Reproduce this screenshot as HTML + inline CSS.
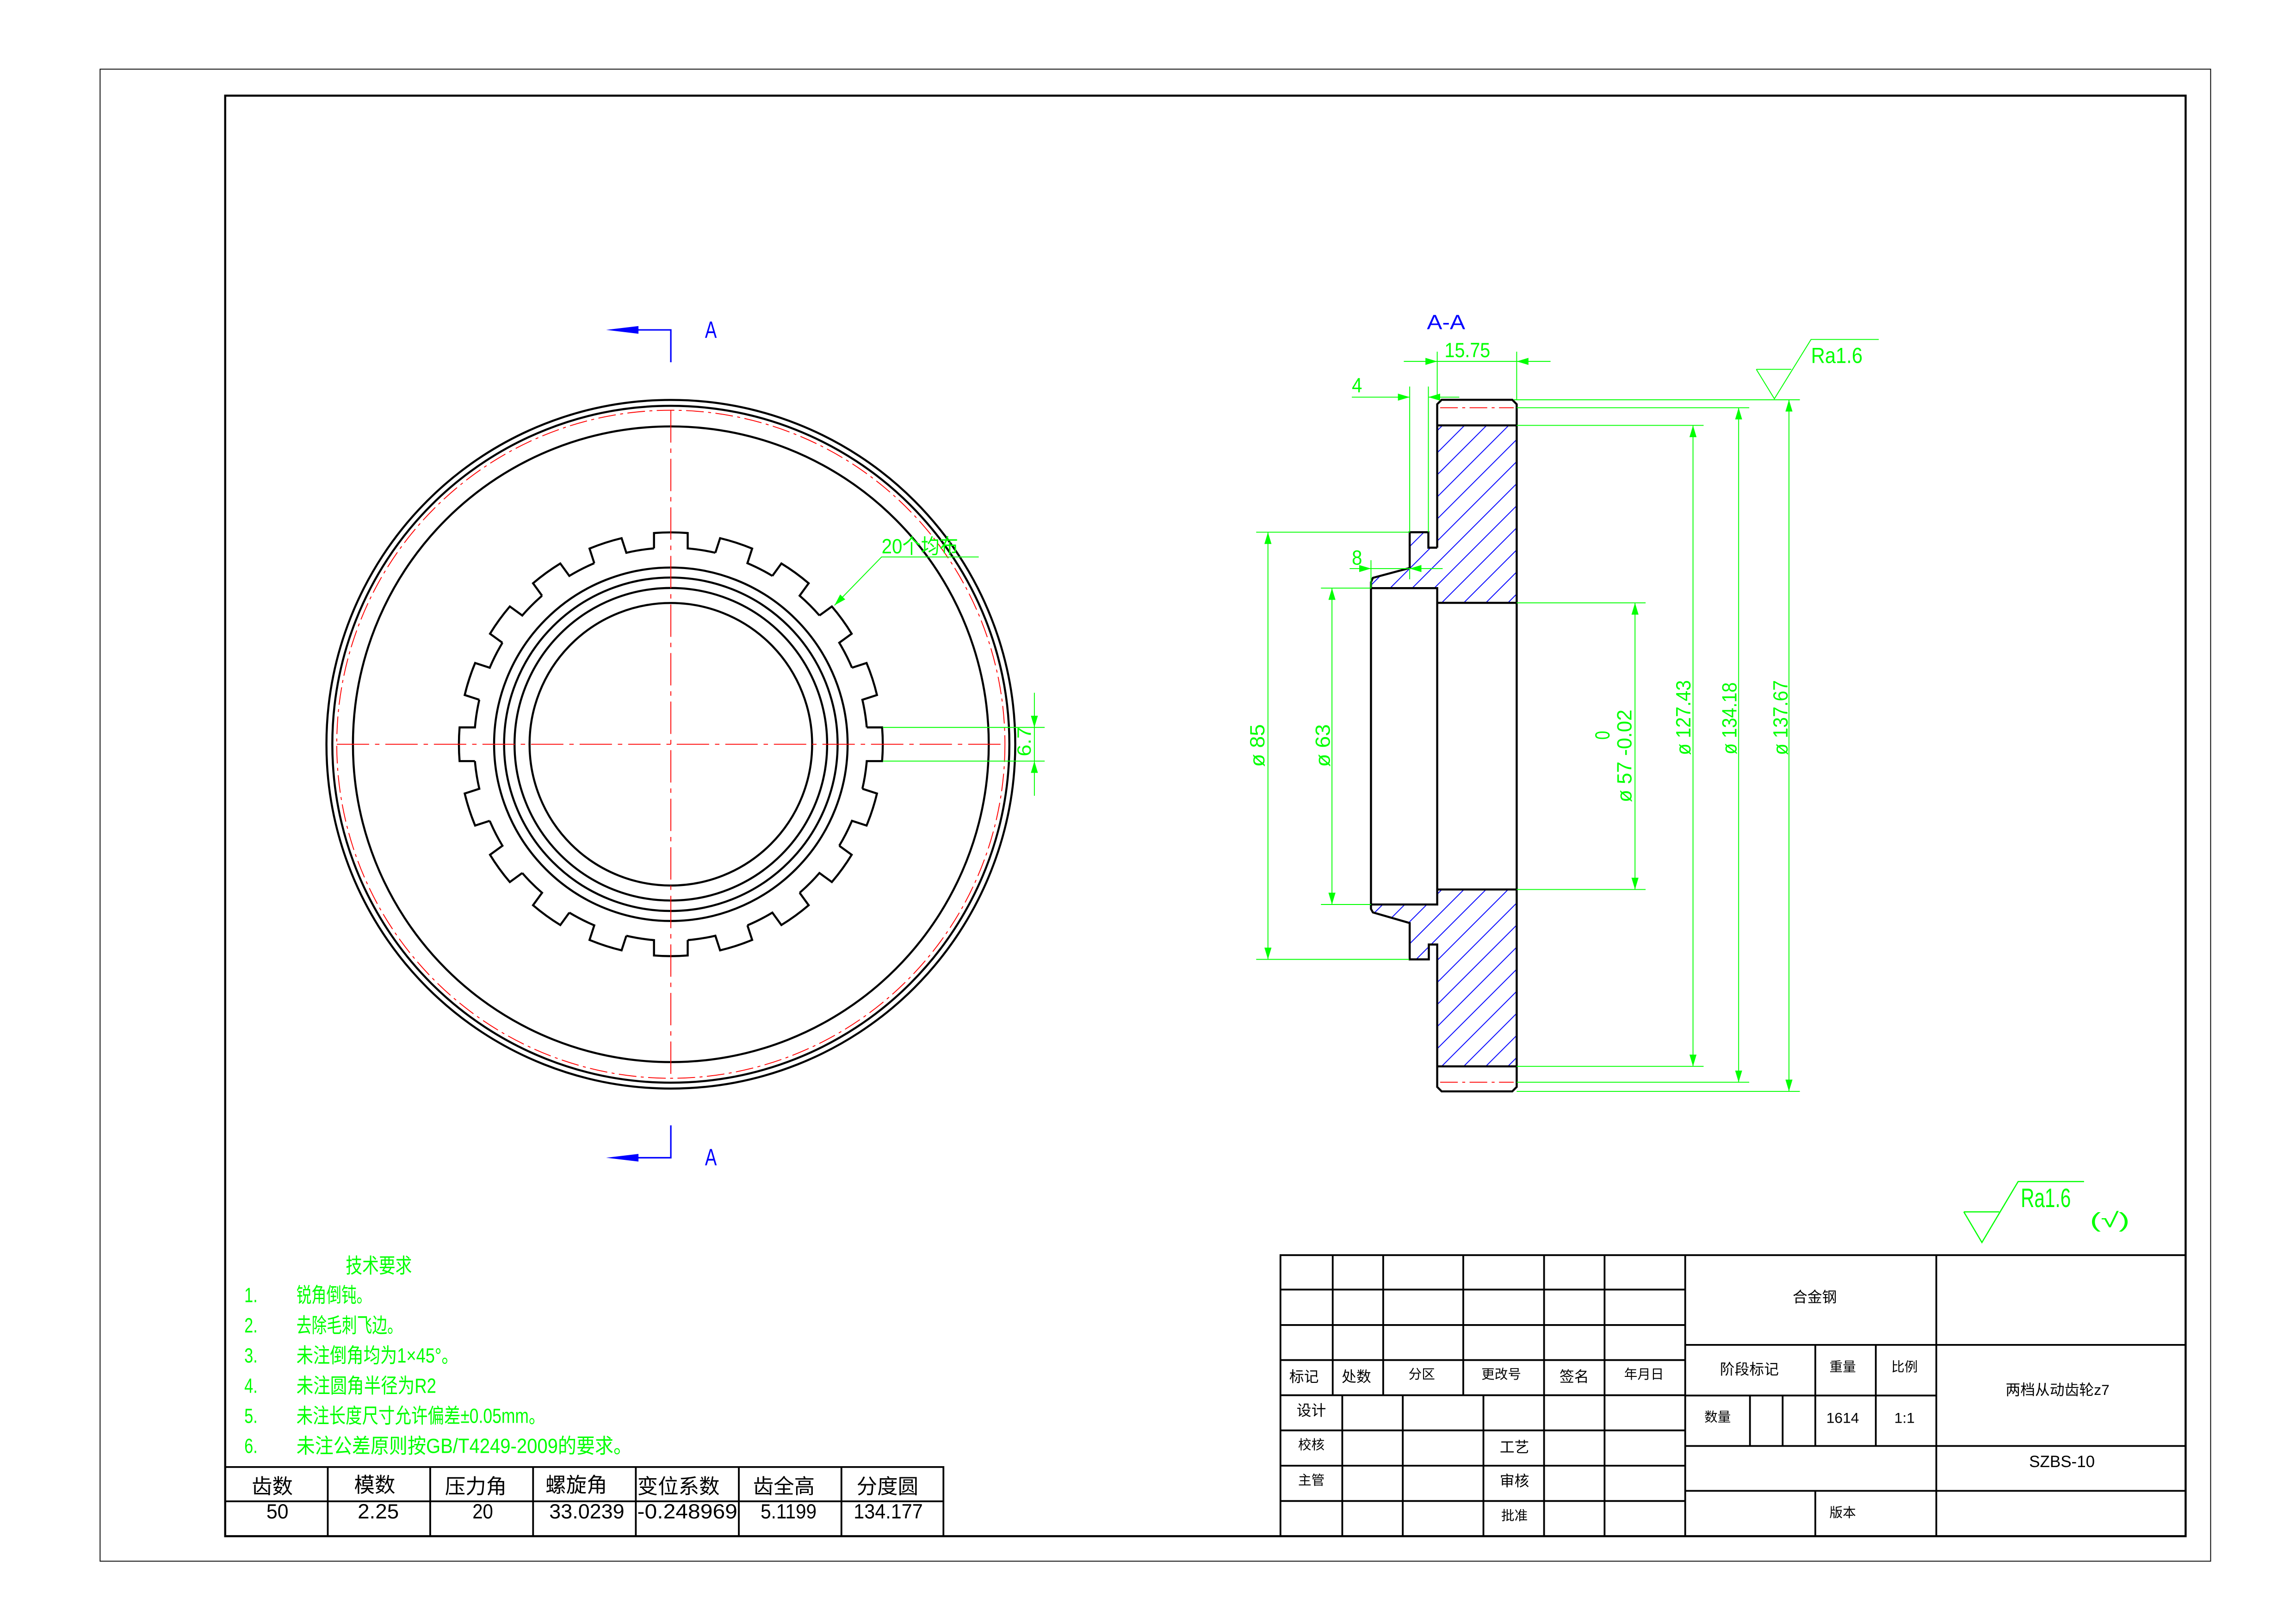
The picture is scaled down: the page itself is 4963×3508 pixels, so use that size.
<!DOCTYPE html>
<html><head><meta charset="utf-8">
<style>
html,body{margin:0;padding:0;background:#fff;}
svg{display:block;}
text{font-family:"Liberation Sans","Noto Sans CJK SC",sans-serif;}
</style></head>
<body>
<svg xmlns="http://www.w3.org/2000/svg" width="4963" height="3508" viewBox="0 0 1560 1103" preserveAspectRatio="none">
<defs>
  <marker id="ag" markerUnits="userSpaceOnUse" markerWidth="10" markerHeight="6" refX="8" refY="3" orient="auto">
    <path d="M0,0.6 L8,3 L0,5.4 Z" fill="#00ff00"/>
  </marker>
  <marker id="ags" markerUnits="userSpaceOnUse" markerWidth="10" markerHeight="6" refX="8" refY="3" orient="auto-start-reverse">
    <path d="M0,0.6 L8,3 L0,5.4 Z" fill="#00ff00"/>
  </marker>
  <pattern id="hatch" patternUnits="userSpaceOnUse" width="15" height="15">
    <path d="M0,15 L15,0 M-4,4 L4,-4 M11,19 L19,11" stroke="#0000ff" stroke-width="0.6"/>
  </pattern>
  <path id="tooth" d="M133.11,-11.45 L143.54,-11.45 A144 144 0 0 1 143.54,11.45 L133.11,11.45 A133.6 133.6 0 0 1 130.14,30.24" fill="none" stroke="#000" stroke-width="1.4"/>
</defs>

<!-- frames -->
<rect x="68" y="47" width="1434" height="1014" fill="none" stroke="#000" stroke-width="0.6"/>
<rect x="153" y="65" width="1332" height="979" fill="none" stroke="#000" stroke-width="1.4"/>

<!-- ===== FRONT VIEW ===== -->
<g transform="translate(455.8,505.8)">
  <g fill="none" stroke="#000" stroke-width="1.4">
    <circle r="234"/>
    <circle r="230"/>
    <circle r="216"/>
    <circle r="120.1"/>
    <circle r="113.3"/>
    <circle r="106.2"/>
    <circle r="96"/>
  </g>
  <circle r="227" fill="none" stroke="#ff0000" stroke-width="0.6" stroke-dasharray="12 3 2 3"/>
  <use href="#tooth" transform="rotate(0)"/><use href="#tooth" transform="rotate(18)"/>
  <use href="#tooth" transform="rotate(36)"/><use href="#tooth" transform="rotate(54)"/>
  <use href="#tooth" transform="rotate(72)"/><use href="#tooth" transform="rotate(90)"/>
  <use href="#tooth" transform="rotate(108)"/><use href="#tooth" transform="rotate(126)"/>
  <use href="#tooth" transform="rotate(144)"/><use href="#tooth" transform="rotate(162)"/>
  <use href="#tooth" transform="rotate(180)"/><use href="#tooth" transform="rotate(198)"/>
  <use href="#tooth" transform="rotate(216)"/><use href="#tooth" transform="rotate(234)"/>
  <use href="#tooth" transform="rotate(252)"/><use href="#tooth" transform="rotate(270)"/>
  <use href="#tooth" transform="rotate(288)"/><use href="#tooth" transform="rotate(306)"/>
  <use href="#tooth" transform="rotate(324)"/><use href="#tooth" transform="rotate(342)"/>
  <g stroke="#ff0000" stroke-width="0.6" stroke-dasharray="22 4 3 4">
    <line x1="-227" y1="0" x2="227" y2="0"/>
    <line x1="0" y1="-227" x2="0" y2="227"/>
  </g>
  <!-- 6.7 dimension -->
  <g stroke="#00ff00" stroke-width="0.6" fill="none">
    <line x1="144" y1="-11.45" x2="254" y2="-11.45"/>
    <line x1="144" y1="11.45" x2="254" y2="11.45"/>
    <line x1="247" y1="-35" x2="247" y2="-11.45" marker-end="url(#ag)"/>
    <line x1="247" y1="35" x2="247" y2="11.45" marker-end="url(#ag)"/>
    <line x1="247" y1="-11.45" x2="247" y2="11.45"/>
  </g>
  <text transform="translate(244.5,-1.8) rotate(-90)" font-size="13" fill="#00ff00" text-anchor="middle" textLength="20" lengthAdjust="spacingAndGlyphs">6.7</text>
</g>
<!-- 20个均布 leader -->
<g stroke="#00ff00" stroke-width="0.6" fill="none">
  <polyline points="665,378.5 599,378.5 567,411.4" marker-end="url(#ag)"/>
</g>
<text x="599" y="376" font-size="14" fill="#00ff00" textLength="52" lengthAdjust="spacingAndGlyphs">20个均布</text>

<!-- section markers A -->
<g stroke="#0000ff" stroke-width="1" fill="none">
  <polyline points="455.8,246.2 455.8,224.2 420,224.2"/>
  <polyline points="455.8,764.8 455.8,786.8 420,786.8"/>
</g>
<path d="M411.8,224.2 L433.8,221.6 L433.8,226.8 Z" fill="#0000ff"/>
<path d="M411.8,786.8 L433.8,784.2 L433.8,789.4 Z" fill="#0000ff"/>
<text x="479" y="229.7" font-size="16" fill="#0000ff" textLength="8" lengthAdjust="spacingAndGlyphs">A</text>
<text x="479" y="792.1" font-size="16" fill="#0000ff" textLength="8" lengthAdjust="spacingAndGlyphs">A</text>

<!-- ===== SECTION VIEW ===== -->
<g transform="translate(-4.5,-1.3)">
  <!-- hatch fills -->
  <path d="M981,290.4 L1035,290.4 L1035,411 L981,411 L981,401 L936,401 L936,394.6 L937.3,394 L962.3,387.3 L962.3,363 L975,363 L975,373.5 L981,373.5 Z" fill="url(#hatch)"/>
  <path d="M981,605.8 L1035,605.8 L1035,726 L981,726 L981,643.2 L975.3,643.2 L975.3,653.3 L962.3,653.3 L962.3,628.6 L937.3,621.4 L936,621.4 L936,616 L981,616 Z" fill="url(#hatch)"/>
  <!-- outline -->
  <g fill="none" stroke="#000" stroke-width="1.4" stroke-linejoin="miter">
    <path d="M981,373.5 L981,276 L984,273 L1032,273 L1035,276 L1035,740 L1032,743 L984,743 L981,740 L981,643.2 L975.3,643.2 L975.3,653.3 L962.3,653.3 L962.3,628.6 L937.3,621.4 L936,619 L936,616"/>
    <path d="M981,373.5 L975,373.5 L975,363 L962.3,363 L962.3,387.3 L937.3,394 L936,397 L936,401"/>
    <rect x="936" y="401" width="45" height="215"/>
    <line x1="981" y1="290.4" x2="1035" y2="290.4"/>
    <line x1="981" y1="726" x2="1035" y2="726"/>
    <line x1="981" y1="411" x2="1035" y2="411"/>
    <line x1="981" y1="605.8" x2="1035" y2="605.8"/>
  </g>
  <g stroke="#ff0000" stroke-width="0.6" stroke-dasharray="12 3 2 3">
    <line x1="983" y1="278.4" x2="1033" y2="278.4"/>
    <line x1="983" y1="736.8" x2="1033" y2="736.8"/>
  </g>
  <!-- dimensions -->
  <g stroke="#00ff00" stroke-width="0.6" fill="none">
    <!-- ø85 -->
    <line x1="858" y1="363" x2="962" y2="363"/>
    <line x1="858" y1="653.3" x2="962" y2="653.3"/>
    <line x1="866" y1="508" x2="866" y2="363" marker-end="url(#ag)"/>
    <line x1="866" y1="508" x2="866" y2="653.3" marker-end="url(#ag)"/>
    <!-- ø63 -->
    <line x1="902" y1="401" x2="936" y2="401"/>
    <line x1="902" y1="616" x2="936" y2="616"/>
    <line x1="909.5" y1="508" x2="909.5" y2="401" marker-end="url(#ag)"/>
    <line x1="909.5" y1="508" x2="909.5" y2="616" marker-end="url(#ag)"/>
    <!-- ø57 -->
    <line x1="1035" y1="411" x2="1122.6" y2="411"/>
    <line x1="1035" y1="605.8" x2="1122.6" y2="605.8"/>
    <line x1="1115.4" y1="508" x2="1115.4" y2="411" marker-end="url(#ag)"/>
    <line x1="1115.4" y1="508" x2="1115.4" y2="605.8" marker-end="url(#ag)"/>
    <!-- ø127.43 -->
    <line x1="1035" y1="290.4" x2="1162" y2="290.4"/>
    <line x1="1035" y1="726" x2="1162" y2="726"/>
    <line x1="1154.8" y1="508" x2="1154.8" y2="290.4" marker-end="url(#ag)"/>
    <line x1="1154.8" y1="508" x2="1154.8" y2="726" marker-end="url(#ag)"/>
    <!-- ø134.18 -->
    <line x1="1035" y1="278.4" x2="1193" y2="278.4"/>
    <line x1="1035" y1="736.8" x2="1193" y2="736.8"/>
    <line x1="1185.8" y1="508" x2="1185.8" y2="278.4" marker-end="url(#ag)"/>
    <line x1="1185.8" y1="508" x2="1185.8" y2="736.8" marker-end="url(#ag)"/>
    <!-- ø137.67 -->
    <line x1="1033" y1="273" x2="1227.4" y2="273"/>
    <line x1="1035" y1="743" x2="1227.4" y2="743"/>
    <line x1="1220" y1="508" x2="1220" y2="273" marker-end="url(#ag)"/>
    <line x1="1220" y1="508" x2="1220" y2="743" marker-end="url(#ag)"/>
    <!-- 15.75 -->
    <line x1="981" y1="240.3" x2="981" y2="273"/>
    <line x1="1035" y1="240.3" x2="1035" y2="273"/>
    <line x1="958.3" y1="246.9" x2="981" y2="246.9" marker-end="url(#ag)"/>
    <line x1="1058" y1="246.9" x2="1035" y2="246.9" marker-end="url(#ag)"/>
    <line x1="981" y1="246.9" x2="1035" y2="246.9"/>
    <!-- 4 -->
    <line x1="962.3" y1="264" x2="962.3" y2="363"/>
    <line x1="975" y1="264" x2="975" y2="363"/>
    <line x1="923" y1="271.2" x2="962.3" y2="271.2" marker-end="url(#ag)"/>
    <line x1="996" y1="271.2" x2="975" y2="271.2" marker-end="url(#ag)"/>
    <!-- 8 -->
    <line x1="936" y1="382" x2="936" y2="401"/>
    <line x1="962.3" y1="387.3" x2="962.3" y2="395"/>
    <line x1="921.5" y1="387.7" x2="936" y2="387.7" marker-end="url(#ag)"/>
    <line x1="984.7" y1="387.7" x2="962.3" y2="387.7" marker-end="url(#ag)"/>
    <line x1="936" y1="387.7" x2="962.3" y2="387.7"/>
    <!-- Ra symbol -->
    <polyline points="1197.8,252.3 1221.6,252.3"/>
    <polyline points="1197.8,252.3 1210.1,272.3 1235,232 1281,232"/>
  </g>
  <g fill="#00ff00" font-size="14">
    <text transform="translate(863.5,508) rotate(-90)" text-anchor="middle" textLength="29" lengthAdjust="spacingAndGlyphs">ø 85</text>
    <text transform="translate(908,508) rotate(-90)" text-anchor="middle" textLength="29" lengthAdjust="spacingAndGlyphs">ø 63</text>
    <text transform="translate(1113,515) rotate(-90)" text-anchor="middle" textLength="63" lengthAdjust="spacingAndGlyphs">ø 57 -0.02</text>
    <text transform="translate(1098,501) rotate(-90)" text-anchor="middle" textLength="6" lengthAdjust="spacingAndGlyphs">0</text>
    <text transform="translate(1153,489) rotate(-90)" text-anchor="middle" textLength="51" lengthAdjust="spacingAndGlyphs">ø 127.43</text>
    <text transform="translate(1184.3,489.5) rotate(-90)" text-anchor="middle" textLength="49" lengthAdjust="spacingAndGlyphs">ø 134.18</text>
    <text transform="translate(1219,489) rotate(-90)" text-anchor="middle" textLength="51" lengthAdjust="spacingAndGlyphs">ø 137.67</text>
    <text x="986" y="244" textLength="31" lengthAdjust="spacingAndGlyphs">15.75</text>
    <text x="923" y="268" textLength="7" lengthAdjust="spacingAndGlyphs">4</text>
    <text x="923" y="385" textLength="7" lengthAdjust="spacingAndGlyphs">8</text>
    <text x="1235" y="248" font-size="15" textLength="35" lengthAdjust="spacingAndGlyphs">Ra1.6</text>
  </g>
  <text x="974" y="225" font-size="14" fill="#0000ff" textLength="26" lengthAdjust="spacingAndGlyphs">A-A</text>
</g>

<!-- Ra1.6 (√) bottom right -->
<g stroke="#00ff00" stroke-width="0.8" fill="none">
  <polyline points="1334.3,823.6 1358.4,823.6"/>
  <polyline points="1334.3,823.6 1346.6,844.4 1371.2,803 1416,803"/>
</g>
<text x="1373" y="820.4" font-size="18" fill="#00ff00" textLength="34" lengthAdjust="spacingAndGlyphs">Ra1.6</text>
<text x="1420" y="834" font-size="14" fill="#00ff00" textLength="27" lengthAdjust="spacingAndGlyphs">(√)</text>

<!-- Technical requirements -->
<g fill="#00ff00" font-size="14">
  <text x="234.9" y="865" textLength="45" lengthAdjust="spacingAndGlyphs">技术要求</text>
  <text x="166" y="885" textLength="9" lengthAdjust="spacingAndGlyphs">1.</text>
  <text x="201.4" y="885" textLength="51" lengthAdjust="spacingAndGlyphs">锐角倒钝。</text>
  <text x="166" y="905.5" textLength="9" lengthAdjust="spacingAndGlyphs">2.</text>
  <text x="201.4" y="905.5" textLength="72" lengthAdjust="spacingAndGlyphs">去除毛刺飞边。</text>
  <text x="166" y="926" textLength="9" lengthAdjust="spacingAndGlyphs">3.</text>
  <text x="201.4" y="926" textLength="110" lengthAdjust="spacingAndGlyphs">未注倒角均为1×45°。</text>
  <text x="166" y="946.5" textLength="9" lengthAdjust="spacingAndGlyphs">4.</text>
  <text x="201.4" y="946.5" textLength="95" lengthAdjust="spacingAndGlyphs">未注圆角半径为R2</text>
  <text x="166" y="967" textLength="9" lengthAdjust="spacingAndGlyphs">5.</text>
  <text x="201.4" y="967" textLength="169" lengthAdjust="spacingAndGlyphs">未注长度尺寸允许偏差±0.05mm。</text>
  <text x="166" y="987.5" textLength="9" lengthAdjust="spacingAndGlyphs">6.</text>
  <text x="201.4" y="987.5" textLength="228" lengthAdjust="spacingAndGlyphs">未注公差原则按GB/T4249-2009的要求。</text>
</g>

<!-- parameter table -->
<g stroke="#000" stroke-width="1.2" fill="none">
  <polyline points="153,997 641,997 641,1044"/>
  <line x1="153" y1="1020.3" x2="641" y2="1020.3"/>
  <line x1="222.7" y1="997" x2="222.7" y2="1044"/>
  <line x1="292.3" y1="997" x2="292.3" y2="1044"/>
  <line x1="362.2" y1="997" x2="362.2" y2="1044"/>
  <line x1="432" y1="997" x2="432" y2="1044"/>
  <line x1="502" y1="997" x2="502" y2="1044"/>
  <line x1="571.7" y1="997" x2="571.7" y2="1044"/>
</g>
<g fill="#000" font-size="14" text-anchor="middle">
  <text x="185" y="1015">齿数</text>
  <text x="254.6" y="1014">模数</text>
  <text x="323.3" y="1015">压力角</text>
  <text x="391.6" y="1014">螺旋角</text>
  <text x="461" y="1015">变位系数</text>
  <text x="532.6" y="1015">齿全高</text>
  <text x="603" y="1015">分度圆</text>
  <text x="188.5" y="1032" textLength="15" lengthAdjust="spacingAndGlyphs">50</text>
  <text x="257" y="1032" textLength="28" lengthAdjust="spacingAndGlyphs">2.25</text>
  <text x="328" y="1032" textLength="14" lengthAdjust="spacingAndGlyphs">20</text>
  <text x="398.7" y="1032" textLength="51" lengthAdjust="spacingAndGlyphs">33.0239</text>
  <text x="467" y="1032" textLength="68" lengthAdjust="spacingAndGlyphs">-0.248969</text>
  <text x="535.8" y="1032" textLength="38" lengthAdjust="spacingAndGlyphs">5.1199</text>
  <text x="603.5" y="1032" textLength="47" lengthAdjust="spacingAndGlyphs">134.177</text>
</g>

<!-- title block -->
<g stroke="#000" stroke-width="1.2" fill="none">
  <rect x="870" y="853" width="615" height="191"/>
  <line x1="870" y1="876.4" x2="1145" y2="876.4"/>
  <line x1="870" y1="900.5" x2="1145" y2="900.5"/>
  <line x1="870" y1="924.3" x2="1145" y2="924.3"/>
  <line x1="870" y1="948.2" x2="1145" y2="948.2"/>
  <line x1="870" y1="972.1" x2="1145" y2="972.1"/>
  <line x1="870" y1="996.1" x2="1145" y2="996.1"/>
  <line x1="870" y1="1020.1" x2="1145" y2="1020.1"/>
  <line x1="905.5" y1="853" x2="905.5" y2="948.2"/>
  <line x1="939.8" y1="853" x2="939.8" y2="948.2"/>
  <line x1="994.2" y1="853" x2="994.2" y2="948.2"/>
  <line x1="1049.1" y1="853" x2="1049.1" y2="1044"/>
  <line x1="1090.2" y1="853" x2="1090.2" y2="1044"/>
  <line x1="1145" y1="853" x2="1145" y2="1044"/>
  <line x1="912" y1="948.2" x2="912" y2="1044"/>
  <line x1="953.1" y1="948.2" x2="953.1" y2="1044"/>
  <line x1="1007.9" y1="948.2" x2="1007.9" y2="1044"/>
  <line x1="1315.6" y1="853" x2="1315.6" y2="1044"/>
  <line x1="1145" y1="914" x2="1485" y2="914"/>
  <line x1="1145" y1="982.7" x2="1485" y2="982.7"/>
  <line x1="1145" y1="1013.2" x2="1485" y2="1013.2"/>
  <line x1="1145" y1="948.4" x2="1315.6" y2="948.4"/>
  <line x1="1233.4" y1="914" x2="1233.4" y2="982.7"/>
  <line x1="1233.4" y1="1013.2" x2="1233.4" y2="1044"/>
  <line x1="1274.5" y1="914" x2="1274.5" y2="982.7"/>
  <line x1="1189" y1="948.4" x2="1189" y2="982.7"/>
  <line x1="1211.2" y1="948.4" x2="1211.2" y2="982.7"/>
</g>
<g fill="#000" font-size="10" text-anchor="middle">
  <text x="1233" y="885">合金钢</text>
  <text x="886" y="939">标记</text>
  <text x="921.6" y="939">处数</text>
  <text x="966" y="937" font-size="9">分区</text>
  <text x="1020" y="937" font-size="9">更改号</text>
  <text x="1069.6" y="939">签名</text>
  <text x="1117" y="937" font-size="9">年月日</text>
  <text x="1188.6" y="934">阶段标记</text>
  <text x="1252" y="932" font-size="9">重量</text>
  <text x="1294" y="932" font-size="9">比例</text>
  <text x="1398" y="948">两档从动齿轮z7</text>
  <text x="1167" y="966" font-size="9">数量</text>
  <text x="1252" y="967">1614</text>
  <text x="1294" y="967">1:1</text>
  <text x="1401" y="997" font-size="11">SZBS-10</text>
  <text x="1252" y="1031" font-size="9">版本</text>
  <text x="891" y="962">设计</text>
  <text x="891" y="985" font-size="9">校核</text>
  <text x="891" y="1009" font-size="9">主管</text>
  <text x="1029" y="987">工艺</text>
  <text x="1029" y="1010">审核</text>
  <text x="1029" y="1033" font-size="9">批准</text>
</g>
</svg>
</body></html>
